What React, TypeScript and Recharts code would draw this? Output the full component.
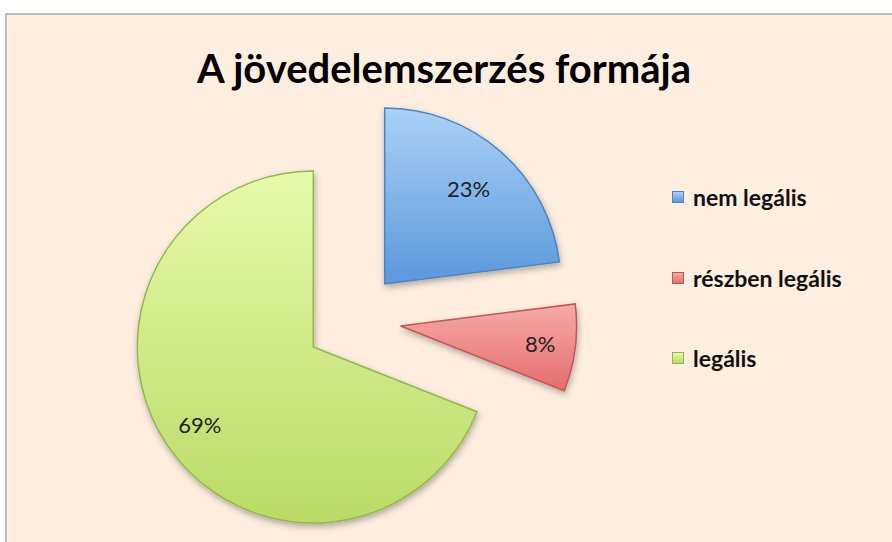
import React from 'react';
import { PieChart, Pie, Cell, Legend } from 'recharts';

const categories = ['nem legális', 'részben legális', 'legális'];
const shares = [23, 8, 69];
const percentLabels = ['23%', '8%', '69%'];
const title = 'A jövedelemszerzés formája';

const topColors = ['#AAD1F8', '#F7AAA8', '#E6FAAA'];
const bottomColors = ['#5B98DB', '#E46D6C', '#B9DA66'];
const strokeColors = ['#4D84C4', '#C45655', '#95B64E'];

const data = categories.map((name, i) => ({ name, value: shares[i], label: percentLabels[i] }));

const W = 892;
const H = 542;
const CX = 353;
const CY = 320;
const R = 176;
const EXPLODE = 48;
const LABEL_RADIUS = [0.72, 0.8, 0.78];
const FONT = 'Lato, "Open Sans", sans-serif';

const total = shares.reduce((a, b) => a + b, 0);
const midAngles: number[] = [];
{
  let acc = 0;
  shares.forEach((v) => {
    midAngles.push(90 - ((acc + v / 2) / total) * 360);
    acc += v;
  });
}

const makeLabel = (slice: number) => (props: any) => {
  const { cx, cy, midAngle, outerRadius, index } = props;
  if (index !== slice) return null;
  const rad = (Math.PI / 180) * midAngle;
  const r = outerRadius * LABEL_RADIUS[index];
  const x = cx + r * Math.cos(rad);
  const y = cy - r * Math.sin(rad);
  return (
    <text
      x={x}
      y={y}
      textAnchor="middle"
      dominantBaseline="central"
      fontFamily={FONT}
      fontSize={22}
      fill="#222"
    >
      {percentLabels[index]}
    </text>
  );
};

const LegendContent = () => (
  <div style={{ fontFamily: FONT, fontWeight: 700, fontSize: 23, color: '#111' }}>
    {categories.map((c, i) => (
      <div
        key={c}
        style={{
          display: 'flex',
          alignItems: 'center',
          height: 28,
          lineHeight: '28px',
          marginBottom: i < categories.length - 1 ? 52.5 : 0,
        }}
      >
        <span
          style={{
            display: 'inline-block',
            width: 10,
            height: 10,
            marginRight: 9,
            background: `linear-gradient(${topColors[i]}, ${bottomColors[i]})`,
            border: `1px solid ${strokeColors[i]}`,
          }}
        />
        <span>{c}</span>
      </div>
    ))}
  </div>
);

export default function App() {
  return (
    <div style={{ position: 'fixed', left: 0, top: 0, width: W, height: H, overflow: 'hidden', background: '#fff' }}>
      <svg width={0} height={0} style={{ position: 'absolute' }}>
        <defs>
          {categories.map((c, i) => (
            <linearGradient key={c} id={`grad${i}`} x1="0" y1="0" x2="0" y2="1">
              <stop offset="0%" stopColor={topColors[i]} />
              <stop offset="100%" stopColor={bottomColors[i]} />
            </linearGradient>
          ))}
          <filter id="shadow" x="-20%" y="-20%" width="140%" height="140%">
            <feDropShadow dx="1" dy="3" stdDeviation="3" floodColor="#000" floodOpacity="0.3" />
          </filter>
        </defs>
      </svg>
      <div
        style={{
          position: 'absolute',
          left: 5,
          top: 13,
          width: W,
          height: H,
          background: '#FDEEDF',
          borderLeft: '2px solid #BEBEBE',
          borderTop: '2px solid #BEBEBE',
        }}
      />
      <div
        style={{
          position: 'absolute',
          left: 0,
          width: 888,
          top: 44,
          textAlign: 'center',
          fontFamily: FONT,
          fontWeight: 700,
          fontSize: 40,
          color: '#000',
          lineHeight: '48px',
          whiteSpace: 'nowrap',
        }}
      >
        {title}
      </div>
      <div style={{ position: 'absolute', left: 0, top: 0 }}>
        <PieChart width={W} height={H} margin={{ top: 0, right: 0, bottom: 0, left: 0 }}>
          {categories.map((c, slice) => {
            const rad = (Math.PI / 180) * midAngles[slice];
            const cx = CX + EXPLODE * Math.cos(rad);
            const cy = CY - EXPLODE * Math.sin(rad);
            return (
              <Pie
                key={c}
                data={data}
                dataKey="value"
                nameKey="name"
                cx={cx}
                cy={cy}
                outerRadius={R}
                startAngle={90}
                endAngle={-270}
                isAnimationActive={false}
                labelLine={false}
                label={makeLabel(slice)}
                legendType={slice === 0 ? 'square' : 'none'}
              >
                {data.map((d, i) => (
                  <Cell
                    key={d.name}
                    fill={i === slice ? `url(#grad${i})` : 'transparent'}
                    stroke={i === slice ? strokeColors[i] : 'none'}
                    strokeWidth={i === slice ? 1.5 : 0}
                    filter={i === slice ? 'url(#shadow)' : undefined}
                  />
                ))}
              </Pie>
            );
          })}
          <Legend
            layout="vertical"
            align="right"
            verticalAlign="top"
            content={<LegendContent />}
            wrapperStyle={{ left: 672, top: 183, right: 'auto', width: 215 }}
          />
        </PieChart>
      </div>
    </div>
  );
}
